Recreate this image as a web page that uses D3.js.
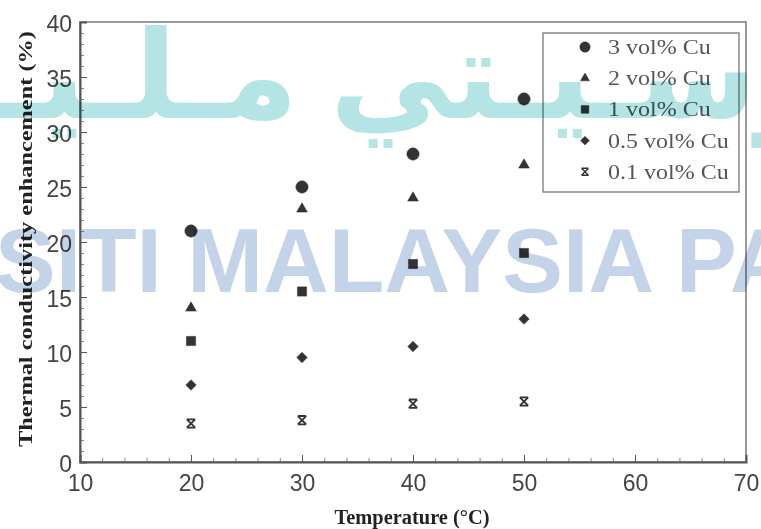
<!DOCTYPE html>
<html>
<head>
<meta charset="utf-8">
<script src="https://cdn.jsdelivr.net/npm/d3@7"></script>
<style>
  body { margin: 0; background: #fff; }
  svg { display: block; }
</style>
</head>
<body>
<div class="chart"></div>
<script>
// temperatures on x, one array per Cu loading
const temps = [20, 30, 40, 50];
const cu3 = [21, 25, 28, 33];
const cu2 = [14, 23, 24, 27];
const cu1 = [11, 15.5, 18, 19];
const cu05 = [7, 9.5, 10.5, 13];
const cu01 = [3.5, 3.8, 5.3, 5.5];
const seriesNames = ["3 vol% Cu", "2 vol% Cu", "1 vol% Cu", "0.5 vol% Cu", "0.1 vol% Cu"];
const xTicks = [10, 20, 30, 40, 50, 60, 70];
const yTicks = [0, 5, 10, 15, 20, 25, 30, 35, 40];

const width = 761, height = 529;
const margin = { top: 22, right: 15, bottom: 67, left: 80 };

const svg = d3.select(".chart")
    .append("svg")
    .attr("width", width)
    .attr("height", height);

const x = d3.scaleLinear().domain([10, 70]).range([margin.left, width - margin.right]);
const y = d3.scaleLinear().domain([0, 40]).range([height - margin.bottom, margin.top]);

const axisColor = "#555";
const labelFont = "Liberation Sans, Arial, sans-serif";
const serif = "Liberation Serif, Times New Roman, serif";

// frame
svg.append("rect")
    .attr("x", x(10)).attr("y", y(40))
    .attr("width", x(70) - x(10)).attr("height", y(0) - y(40))
    .attr("fill", "none").attr("stroke", "#777").attr("stroke-width", 1.5);

// minor ticks
svg.append("g")
    .attr("transform", "translate(0," + y(0) + ")")
    .call(d3.axisBottom(x).tickValues(d3.range(10, 71, 2)).tickSize(-4).tickFormat(""))
    .call(g => g.select(".domain").remove())
    .selectAll("line").attr("stroke", "#888");

svg.append("g")
    .attr("transform", "translate(" + x(10) + ",0)")
    .call(d3.axisLeft(y).tickValues(d3.range(0, 41, 1)).tickSize(-4).tickFormat(""))
    .call(g => g.select(".domain").remove())
    .selectAll("line").attr("stroke", "#888");

// major ticks + labels
const xAxis = svg.append("g")
    .attr("transform", "translate(0," + y(0) + ")")
    .call(d3.axisBottom(x).tickValues(xTicks).tickSize(-7).tickPadding(13));
xAxis.select(".domain").attr("stroke", axisColor).attr("stroke-width", 2);
xAxis.selectAll("line").attr("stroke", axisColor);
xAxis.selectAll("text")
    .attr("font-family", labelFont)
    .attr("font-size", 23).attr("fill", "#444");

const yAxis = svg.append("g")
    .attr("transform", "translate(" + x(10) + ",0)")
    .call(d3.axisLeft(y).tickValues(yTicks).tickSize(-7).tickPadding(8));
yAxis.select(".domain").attr("stroke", axisColor).attr("stroke-width", 2);
yAxis.selectAll("line").attr("stroke", axisColor);
yAxis.selectAll("text")
    .attr("font-family", labelFont)
    .attr("font-size", 23).attr("fill", "#444")
    .attr("dy", "0.4em");

// axis titles
svg.append("text")
    .attr("x", 412).attr("y", 524)
    .attr("text-anchor", "middle")
    .attr("font-family", serif)
    .attr("font-weight", "bold").attr("font-size", 20).attr("fill", "#222")
    .attr("textLength", 155).attr("lengthAdjust", "spacingAndGlyphs")
    .text("Temperature (°C)");

svg.append("text")
    .attr("transform", "translate(32,239) rotate(-90)")
    .attr("text-anchor", "middle")
    .attr("font-family", serif)
    .attr("font-weight", "bold").attr("font-size", 19).attr("fill", "#222")
    .attr("textLength", 416).attr("lengthAdjust", "spacingAndGlyphs")
    .text("Thermal conductivity enhancement (%)");

// marker shapes
const xMark = {
    draw: function (ctx, size) {
        const r = Math.sqrt(size) / 2;
        ctx.moveTo(-r, -r); ctx.lineTo(r, r);
        ctx.moveTo(r, -r); ctx.lineTo(-r, r);
        ctx.moveTo(-r, -r); ctx.lineTo(r, -r);
        ctx.moveTo(-r, r); ctx.lineTo(r, r);
    }
};
const shapes = [
    { type: d3.symbolCircle, size: 120, rot: 0, fill: true },
    { type: d3.symbolTriangle, size: 50, rot: 0, fill: true },
    { type: d3.symbolSquare, size: 85, rot: 0, fill: true },
    { type: d3.symbolSquare, size: 55, rot: 45, fill: true },
    { type: xMark, size: 70, rot: 0, fill: false }
];
const allSeries = [cu3, cu2, cu1, cu05, cu01];
const markColor = "#333";

allSeries.forEach(function (vals, i) {
    const s = shapes[i];
    svg.append("g")
        .selectAll("path")
        .data(vals)
        .enter()
        .append("path")
        .attr("transform", function (d, j) { return "translate(" + x(temps[j]) + "," + y(d) + ") rotate(" + s.rot + ")"; })
        .attr("d", d3.symbol().type(s.type).size(s.size))
        .attr("fill", s.fill ? markColor : "none")
        .attr("stroke", markColor)
        .attr("stroke-width", s.fill ? 0.5 : 1.8);
});

// legend
const legend = svg.append("g");
legend.append("rect")
    .attr("x", 543).attr("y", 33).attr("width", 196).attr("height", 159)
    .attr("fill", "#fff").attr("stroke", "#777").attr("stroke-width", 1.3);

seriesNames.forEach(function (name, i) {
    const s = shapes[i];
    const ly = 47 + i * 31.2;
    legend.append("path")
        .attr("transform", "translate(585," + ly + ") rotate(" + s.rot + ")")
        .attr("d", d3.symbol().type(s.type).size(s.size * 0.7))
        .attr("fill", s.fill ? markColor : "none")
        .attr("stroke", markColor)
        .attr("stroke-width", s.fill ? 0.5 : 1.4);
    const t = legend.append("text")
        .attr("x", 608).attr("y", ly + 7)
        .attr("font-family", serif)
        .attr("font-size", 20).attr("fill", "#555")
        .text(name);
    // the original legend type is a bit wider than Times
    t.attr("textLength", t.node().getComputedTextLength() * 1.2)
        .attr("lengthAdjust", "spacingAndGlyphs");
});

// watermark, multiplied over the chart
const wm = svg.append("g").style("mix-blend-mode", "multiply");
wm.append("text")
    .attr("x", 330).attr("y", 118)
    .attr("text-anchor", "start")
    .attr("font-family", "DejaVu Sans, sans-serif")
    .attr("font-weight", "bold")
    .attr("font-size", 122).attr("fill", "#b4e4e4")
    .text("يونيبرسـيـتي");
wm.append("text")
    .attr("x", 298).attr("y", 118)
    .attr("text-anchor", "end")
    .attr("font-family", "DejaVu Sans, sans-serif")
    .attr("font-weight", "bold")
    .attr("font-size", 122).attr("fill", "#b4e4e4")
    .text("مـلـيـسـيـا");
wm.append("text")
    .attr("x", -5).attr("y", 292)
    .attr("font-family", labelFont)
    .attr("font-weight", "bold").attr("font-size", 91).attr("fill", "#c4d4e8")
    .text("SITI MALAYSIA PA");
</script>
</body>
</html>
